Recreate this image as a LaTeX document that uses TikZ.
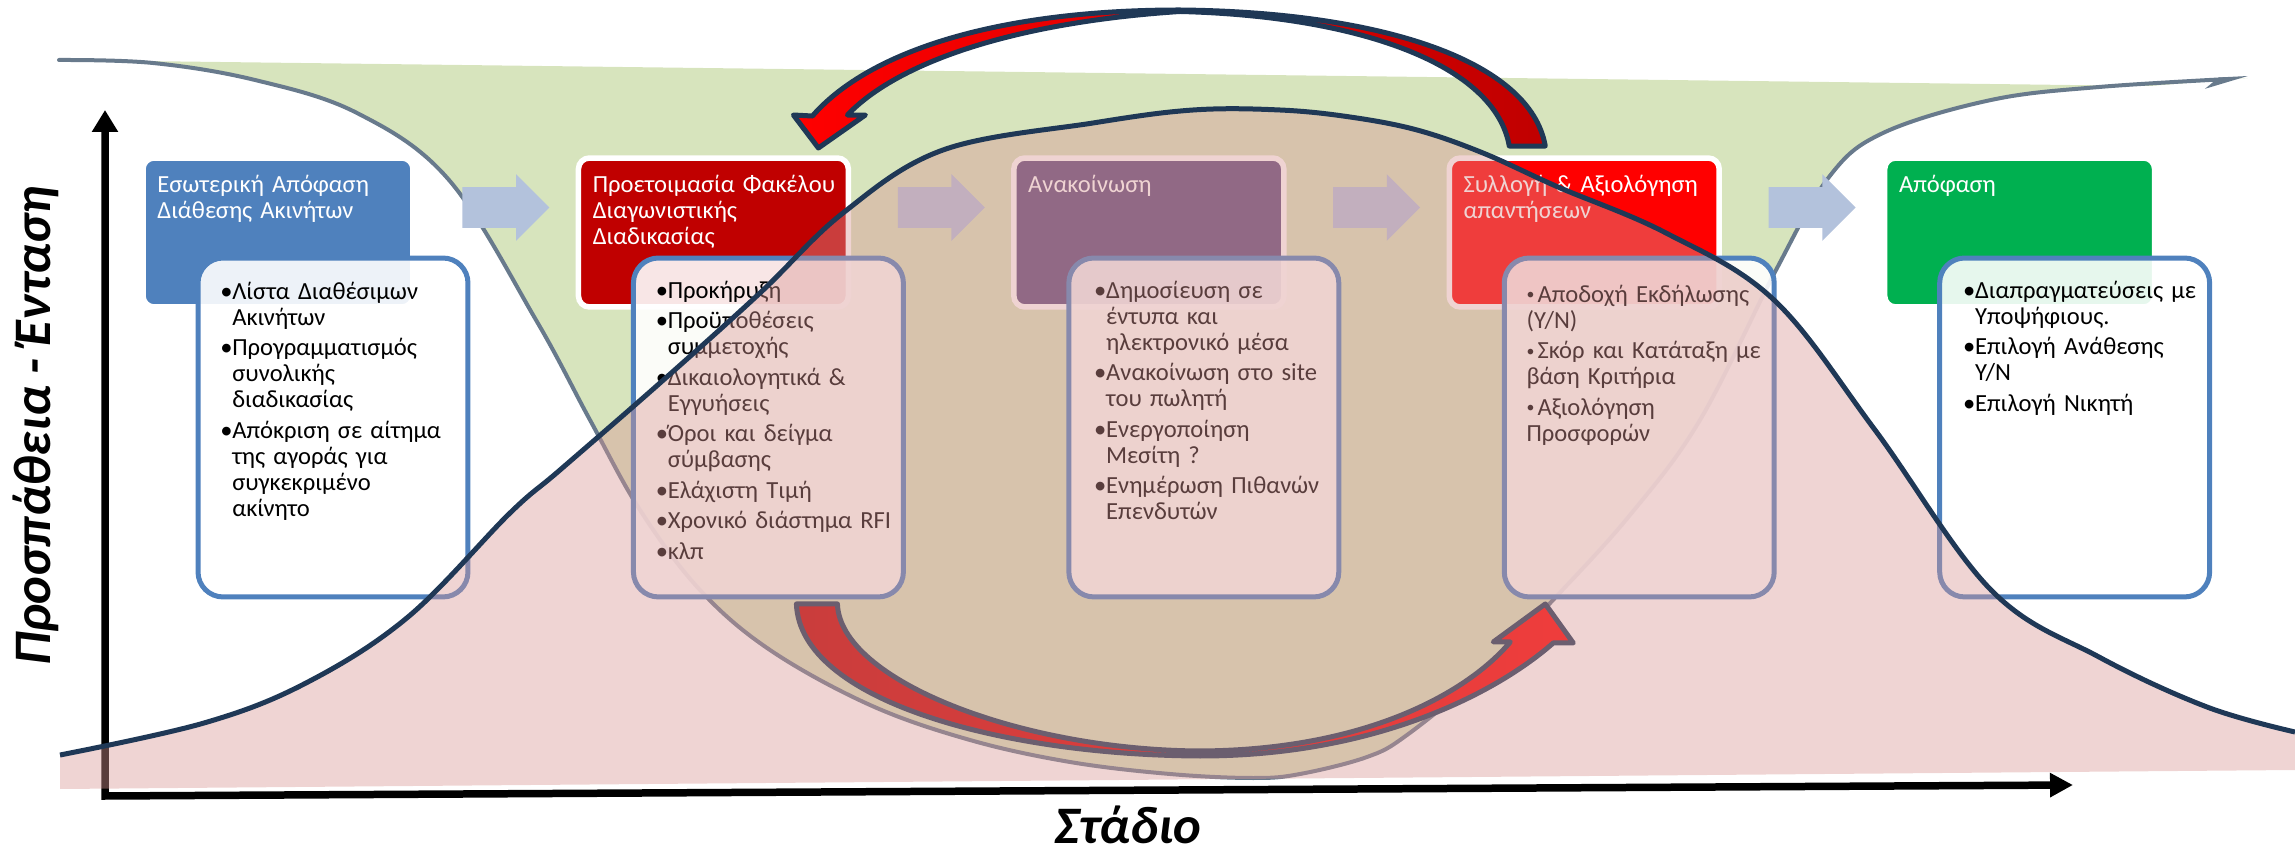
\documentclass[tikz,border=0pt]{standalone}
\usepackage{fontspec}
\setmainfont{Carlito}
\usepackage{tikz}
\usetikzlibrary{arrows.meta,shapes.arrows,positioning,calc}
\usepackage{xcolor}
\definecolor{dfblue}{HTML}{4F81BD}
\definecolor{dfdkred}{HTML}{C00000}
\definecolor{dfred}{HTML}{FF0000}
\definecolor{dfpurple}{HTML}{604A7B}
\definecolor{dfgreen}{HTML}{00B050}
\definecolor{dfvalley}{HTML}{D7E4BD}
\definecolor{dfvalleyline}{HTML}{687A8C}
\definecolor{dfhill}{HTML}{D99694}
\definecolor{dfnavy}{HTML}{1F3856}
\definecolor{dfflow}{HTML}{B3C2DC}
\tikzstyle{stage} = [rectangle, rounded corners=0.22cm, minimum width=5.4cm, minimum height=2.98cm, inner sep=0pt, outer sep=0pt, draw=white, line width=0.11cm]
\tikzstyle{detail} = [rectangle, rounded corners=0.5cm, minimum width=5.4cm, minimum height=6.78cm, inner sep=0pt, outer sep=0pt, draw=dfblue, line width=0.1cm, fill=white, fill opacity=0.9, anchor=north west]
\tikzstyle{stagetext} = [anchor=base west, inner sep=0pt, text width=5cm, align=left, text=white, font=\fontsize{14}{15}\selectfont]
\tikzstyle{detailtext} = [anchor=base west, inner sep=0pt, text width=5.6cm, align=left, font=\fontsize{14}{14.8}\selectfont, execute at begin node={\setlength{\parskip}{0.09cm}}]
\tikzstyle{flowarrow} = [single arrow, fill=dfflow, inner xsep=0pt, inner ysep=0.4cm, single arrow head extend=0.26cm, minimum height=1.74cm, yshift=0.5cm]
\tikzstyle{curvedarrow} = [draw=dfnavy, line width=0.1cm, line join=round]
\tikzstyle{axisline} = [line width=0.15cm, {Triangle[length=0.44cm,width=0.5cm]}-{Triangle[length=0.46cm,width=0.46cm]}]
\tikzstyle{axislabel} = [anchor=base, inner sep=0pt, font=\fontsize{30}{36}\selectfont\bfseries\itshape]
\tikzstyle{valleyline} = [draw=dfvalleyline, line width=0.08cm, line cap=round, -{Stealth[length=0.7cm,width=0.34cm,harpoon,swap]}]
\tikzstyle{hillline} = [draw=dfnavy, line width=0.1cm]
\newlength{\bulletw}
\setlength{\bulletw}{0.24cm}
\newcommand{\pitem}[1]{\noindent\hangindent=\bulletw\hangafter=1\makebox[\bulletw][l]{\textbullet}#1\par}
\newcommand{\pitemflat}[1]{\noindent\raisebox{0.05cm}{\fontsize{9}{9}\selectfont\textbullet}\hspace{0.06cm}#1\par}
% the two curves, in pixels of the slide
\newcommand{\valleycurve}{-- plot[smooth, tension=0.6] coordinates {(59,60) (153,63) (255,80) (357,113) (449,180) (536,320) (590,420) (640,510) (700,590) (770,650) (870,705) (970,740) (1070,762) (1170,774) (1253,778) (1300,774) (1367,757) (1407,735) (1480,675) (1553,600) (1630,515) (1700,420) (1776,270) (1829,177) (1883,133) (1991,100) (2099,87) (2248,78)}}
\newcommand{\hillcurve}{-- plot[smooth, tension=0.6] coordinates {(60,755) (204,723) (306,683) (408,617) (510,513) (560,470) (660,383) (760,293) (843,213) (943,150) (1093,123) (1193,110) (1280,110) (1350,117) (1417,130) (1483,153) (1558,187) (1666,233) (1774,300) (1875,430) (1991,590) (2099,657) (2207,707) (2295,732)}}

\begin{document}
\begin{tikzpicture}[x=0.02cm, y=-0.02cm]
\useasboundingbox (0,0) rectangle (2295,857);

% green valley
\fill[dfvalley] (59,60) \valleycurve -- (2150,86) -- cycle;
\draw[valleyline] (59,60) \valleycurve;

% axes
\coordinate (origin) at (105,796);
\coordinate (ytip) at (105,110);
\coordinate (xtip) at (2073,785);
\draw[axisline] (ytip) -- (origin) -- (xtip);

% stages
\node[stage, fill=dfblue] (t1) at (278,232.5) {};
\node[stage, fill=dfdkred, right=3.31cm of t1] (t2) {};
\node[stage, fill=dfpurple, right=3.31cm of t2] (t3) {};
\node[stage, fill=dfred, right=3.31cm of t3] (t4) {};
\node[stage, fill=dfgreen, right=3.31cm of t4] (t5) {};

\node[stagetext] (s1) at ([shift={(14,34)}]t1.north west) {Εσωτερική Απόφαση\\Διάθεσης Ακινήτων};
\node[stagetext] (s2) at ([shift={(14,34)}]t2.north west) {Προετοιμασία Φακέλου\\Διαγωνιστικής\\Διαδικασίας};
\node[stagetext] (s3) at ([shift={(14,34)}]t3.north west) {Ανακοίνωση};
\node[stagetext] (s4) at ([shift={(14,34)}]t4.north west) {Συλλογή \& Αξιολόγηση\\απαντήσεων};
\node[stagetext] (s5) at ([shift={(14,34)}]t5.north west) {Απόφαση};

\node[flowarrow] (f12) at ($(t1.east)!0.5!(t2.west)$) {};
\node[flowarrow] (f23) at ($(t2.east)!0.5!(t3.west)$) {};
\node[flowarrow] (f34) at ($(t3.east)!0.5!(t4.west)$) {};
\node[flowarrow] (f45) at ($(t4.east)!0.5!(t5.west)$) {};

% details
\node[detail] (d1) at ([shift={(55,100)}]t1.north west) {};
\node[detail] (d2) at ([shift={(55,100)}]t2.north west) {};
\node[detail] (d3) at ([shift={(55,100)}]t3.north west) {};
\node[detail] (d4) at ([shift={(55,100)}]t4.north west) {};
\node[detail] (d5) at ([shift={(55,100)}]t5.north west) {};

\node[detailtext] (l1) at ([shift={(22,41)}]d1.north west) {\pitem{Λίστα Διαθέσιμων\newline Ακινήτων}%
\pitem{Προγραμματισμός\newline συνολικής\newline διαδικασίας}%
\pitem{Απόκριση σε αίτημα\newline της αγοράς για\newline συγκεκριμένο\newline ακίνητο}};
\node[detailtext] (l2) at ([shift={(22,40)}]d2.north west) {\pitem{Προκήρυξη}%
\pitem{Προϋποθέσεις\newline συμμετοχής}%
\pitem{Δικαιολογητικά \&\newline Εγγυήσεις}%
\pitem{Όροι και δείγμα\newline σύμβασης}%
\pitem{Ελάχιστη Τιμή}%
\pitem{Χρονικό διάστημα RFI}%
\pitem{κλπ}};
\node[detailtext] (l3) at ([shift={(25,40)}]d3.north west) {\pitem{Δημοσίευση σε\newline έντυπα και\newline ηλεκτρονικό μέσα}%
\pitem{Ανακοίνωση στο site\newline του πωλητή}%
\pitem{Ενεργοποίηση\newline Μεσίτη ?}%
\pitem{Ενημέρωση Πιθανών\newline Επενδυτών}};
\node[detailtext] (l4) at ([shift={(22,44)}]d4.north west) {\pitemflat{Αποδοχή Εκδήλωσης\newline (Y/N)}%
\pitemflat{Σκόρ και Κατάταξη με\newline βάση Κριτήρια}%
\pitemflat{Αξιολόγηση\newline Προσφορών}};
\node[detailtext] (l5) at ([shift={(23,40)}]d5.north west) {\pitem{Διαπραγματεύσεις με\newline Υποψήφιους.}%
\pitem{Επιλογή Ανάθεσης\newline Y/N}%
\pitem{Επιλογή Νικητή}};

% loop back from the answers to the tender file
\coordinate (backtail) at ([shift={(60,-12)}]t4.north west);
\coordinate (backtip) at ([shift={(-30,-10)}]t2.north east);
\draw[curvedarrow, left color=dfred, right color=dfdkred]
  (backtail) -- ++(36,0)
  .. controls (1530,60) and (1380,12) .. (1180,10)
  .. controls (1000,10) and (870,50) .. ([shift={(-6,-32)}]backtip)
  -- ++(-19,-1) -- (backtip) -- ++(47,-33) -- ++(-18,0)
  .. controls (900,60) and (1020,22) .. (1180,11.5)
  .. controls (1360,16) and (1495,65) .. (backtail) -- cycle;

% forward from the tender file to the answers
\coordinate (fwtail) at ([shift={(28,7)}]d2.south);
\coordinate (fwtip) at ([shift={(41,7)}]d4.south west);
\draw[curvedarrow, left color=dfdkred, right color=dfred]
  (fwtail) -- ++(41,0)
  .. controls (840,680) and (1020,750) .. (1200,751)
  .. controls (1370,750) and (1470,690) .. ([shift={(-35,38)}]fwtip)
  -- ++(-17,0) -- (fwtip) -- ++(28,39) -- ++(-20,0)
  .. controls (1500,690) and (1380,756) .. (1200,756)
  .. controls (1000,755) and (800,700) .. (fwtail) -- cycle;

% effort hill over everything
\fill[dfhill, fill opacity=0.41] (60,789) -- (60,755) \hillcurve -- (2295,770) -- cycle;
\draw[hillline] (60,755) \hillcurve;

\node[axislabel, rotate=90] (ylabel) at (51,426) {Προσπάθεια - Ένταση};
\node[axislabel] (xlabel) at (1128,843) {Στάδιο};
\end{tikzpicture}
\end{document}
